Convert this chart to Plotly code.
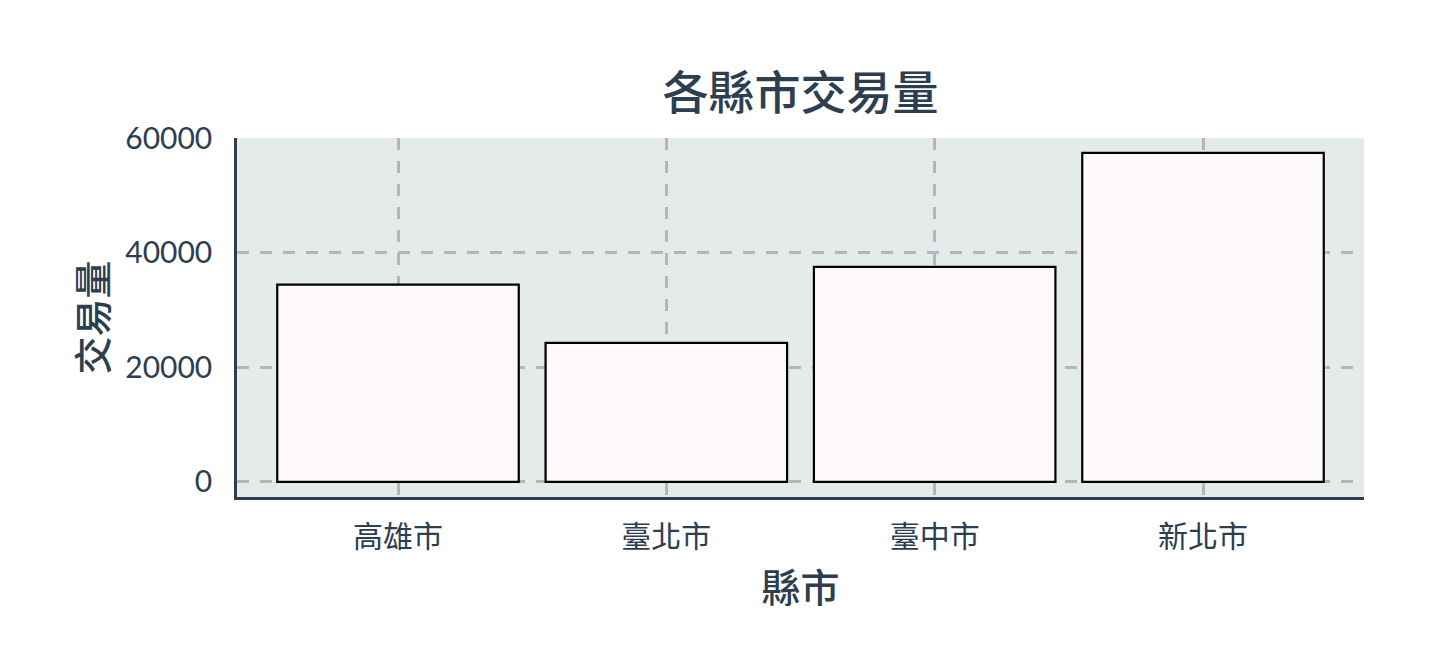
import plotly.graph_objects as go

cities = ["高雄市", "臺北市", "臺中市", "新北市"]
volumes = [34400, 24250, 37500, 57400]
y_ticks = [0, 20000, 40000, 60000]

FONT = "Lato, 'Noto Sans CJK TC', sans-serif"
CJK = "'Noto Sans CJK TC', sans-serif"
TXT = "#2c3e50"
GRID = "#b3b7ba"

fig = go.Figure(
    go.Bar(
        x=cities,
        y=volumes,
        width=0.9,
        marker=dict(color="snow", line=dict(color="black", width=2.2)),
    )
)

fig.update_layout(
    width=1440,
    height=672,
    margin=dict(l=237, r=76, t=138, b=175),
    paper_bgcolor="white",
    plot_bgcolor="#e5ebeb",
    font=dict(family=FONT, color=TXT, size=24),
    title=dict(
        text="各縣市交易量",
        x=0.5,
        xref="paper",
        xanchor="center",
        y=1 - 93 / 672,
        yanchor="middle",
        font=dict(size=46, family=CJK, color=TXT, weight=500),
    ),
    showlegend=False,
)

fig.update_xaxes(
    title=dict(text="縣市", font=dict(size=39, family=CJK, weight=500), standoff=20),
    range=[-0.6, 3.6],
    showline=True,
    linecolor=TXT,
    linewidth=2.5,
    showgrid=True,
    gridcolor=GRID,
    griddash="12px,11px",
    gridwidth=2.5,
    ticks="",
    ticklabelstandoff=11,
    tickfont=dict(size=30, family=CJK, weight=400),
)

fig.update_yaxes(
    title=dict(text="交易量", font=dict(size=38, family=CJK, weight=500), standoff=6),
    range=[-2640, 60000],
    tickvals=y_ticks,
    ticktext=[str(v) for v in y_ticks],
    showline=True,
    linecolor=TXT,
    linewidth=2.5,
    showgrid=True,
    gridcolor=GRID,
    griddash="12px,11px",
    gridwidth=2.5,
    zeroline=False,
    ticks="",
    ticklabelstandoff=16,
    tickfont=dict(size=30, family=FONT, weight=400),
)

fig.write_html("out.html")
